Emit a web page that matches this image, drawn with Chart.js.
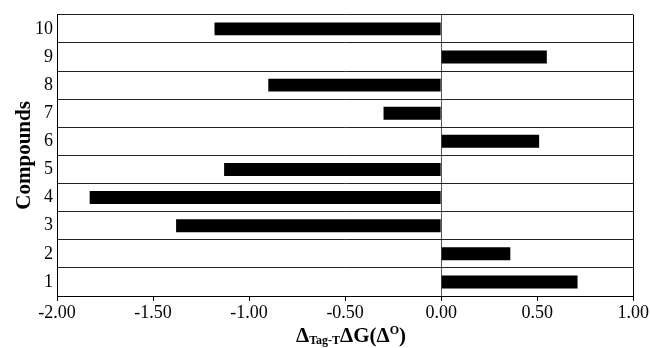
<!DOCTYPE html>
<html>
<head>
<meta charset="utf-8">
<script src="https://cdn.jsdelivr.net/npm/chart.js@4"></script>
<style>
    body { margin: 0; background: #fff; }
    #wrap { position: relative; width: 650px; height: 348px; }
    #xtitle {
        position: absolute; left: 62px; width: 578px; top: 318px;
        text-align: center; font-family: 'Liberation Serif', serif;
        font-weight: bold; font-size: 21px; color: #000; line-height: 24px;
    }
    #xtitle sub { font-size: 12px; vertical-align: -2px; font-weight: bold; }
    #xtitle sup { font-size: 12px; vertical-align: 8px; font-weight: bold; }
</style>
</head>
<body>
<div id="wrap">
    <canvas id="chart" width="650" height="348"></canvas>
    <div id="xtitle">&Delta;<sub>Tag-T</sub>&Delta;G(&Delta;<sup>O</sup>)</div>
</div>
<script>
// Compounds, top to bottom
const compounds = ['10', '9', '8', '7', '6', '5', '4', '3', '2', '1'];
const deltaG = [-1.18, 0.55, -0.90, -0.30, 0.51, -1.13, -1.83, -1.38, 0.36, 0.71];
const xMin = -2.0;
const xMax = 1.0;
const xStep = 0.5;

const serif = 'Liberation Serif, Times New Roman, serif';

new Chart(document.getElementById('chart'), {
    type: 'bar',
    data: {
        labels: compounds,
        datasets: [{
            data: deltaG,
            backgroundColor: '#000',
            borderWidth: 0,
            categoryPercentage: 1,
            barPercentage: 0.46
        }]
    },
    options: {
        indexAxis: 'y',
        responsive: false,
        animation: false,
        layout: { padding: { top: 12, right: 15, left: 0, bottom: 0 } },
        plugins: {
            legend: { display: false },
            tooltip: { enabled: false }
        },
        scales: {
            x: {
                min: xMin,
                max: xMax,
                ticks: {
                    stepSize: xStep,
                    color: '#000',
                    font: { family: serif, size: 18 },
                    padding: 1,
                    callback: value => value.toFixed(2)
                },
                grid: {
                    color: ctx => ctx.tick && (ctx.tick.value === 0) ? '#555' : (ctx.tick && ctx.tick.value === xMax ? '#000' : 'rgba(0,0,0,0)'),
                    tickColor: '#000',
                    tickLength: 5,
                    lineWidth: 1
                },
                border: { color: '#000', width: 1 },
                afterFit: scale => { scale.height = 52; }
            },
            y: {
                ticks: {
                    color: '#000',
                    font: { family: serif, size: 18 },
                    padding: 4
                },
                grid: {
                    color: '#222',
                    lineWidth: 1,
                    drawTicks: false,
                    offset: true
                },
                border: { color: '#000', width: 1 },
                title: {
                    display: true,
                    text: 'Compounds',
                    color: '#000',
                    font: { family: serif, size: 21, weight: 'bold' },
                    padding: { top: 12, bottom: 0 }
                },
                afterFit: scale => { scale.width = 57; }
            }
        }
    }
});
</script>
</body>
</html>
